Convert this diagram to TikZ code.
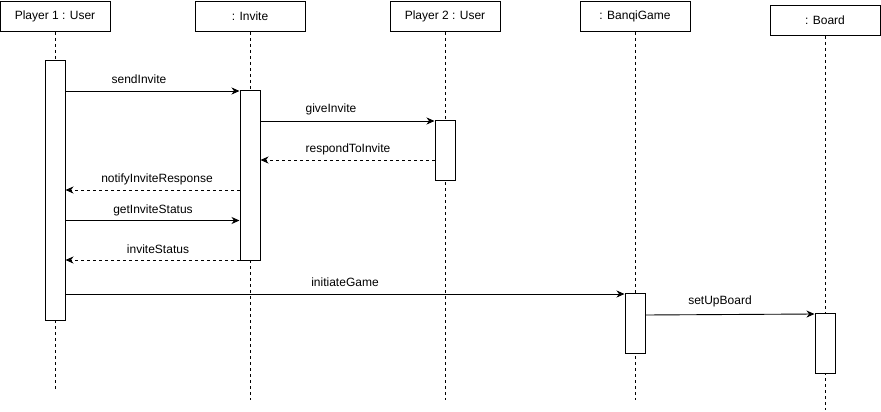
\documentclass[tikz,border=0pt]{standalone}
\usepackage{fontspec}
\setmainfont{Liberation Sans}
\usetikzlibrary{arrows.meta}
\begin{document}
\begin{tikzpicture}[x=1pt,y=-1pt,
  every node/.style={font=\fontsize{12}{14}\selectfont, inner sep=0pt},
  head/.style={draw, line width=1pt, minimum width=110pt, minimum height=30pt, anchor=north},
  actbar/.style={draw, fill=white, line width=1pt, minimum width=20pt, anchor=north},
  life/.style={line width=0.8pt, dash pattern=on 3pt off 3pt},
  call/.style={line width=0.9pt, -{Stealth[length=8pt,width=7pt,inset=2.5pt]}},
  reply/.style={call, dash pattern=on 3pt off 3pt},
  lbl/.style={}]
\useasboundingbox (0,0) rectangle (881,412);

% lifeline heads
\node[head] (p1)    at (55,1)  {Player 1 : User};
\node[head] (inv)   at (250,1) {: Invite};
\node[head] (p2)    at (445,1) {Player 2 : User};
\node[head] (game)  at (635,1) {: BanqiGame};
\node[head] (board) at (825,5) {: Board};

% lifeline ends
\coordinate (p1end)    at (55,390);
\coordinate (invend)   at (250,400);
\coordinate (p2end)    at (445,400);
\coordinate (gameend)  at (635,400);
\coordinate (boardend) at (825,410);

\draw[life] (p1)    -- (p1end);
\draw[life] (inv)   -- (invend);
\draw[life] (p2)    -- (p2end);
\draw[life] (game)  -- (gameend);
\draw[life] (board) -- (boardend);

% activation bars
\node[actbar, minimum height=260pt] (a1) at (55,60)  {};
\node[actbar, minimum height=170pt] (ai) at (250,90) {};
\node[actbar, minimum height=60pt]  (a2) at (445,120) {};
\node[actbar, minimum height=60pt]  (ag) at (635,293) {};
\node[actbar, minimum height=60pt]  (ab) at (825,313) {};

% messages
\draw[call]  (a1.east |- 0,91)  -- (ai.west |- 0,91);
\node[lbl] (m1) at (139,79) {sendInvite};

\draw[call]  (ai.east |- 0,121) -- (a2.west |- 0,121);
\node[lbl] (m2) at (331,109) {giveInvite};

\draw[reply] (a2.west |- 0,160) -- (ai.east |- 0,160);
\node[lbl] (m3) at (348,149) {respondToInvite};

\draw[reply] (ai.west |- 0,190) -- (a1.east |- 0,190);
\node[lbl] (m4) at (157,179) {notifyInviteResponse};

\draw[call]  (a1.east |- 0,220.5) -- (ai.west |- 0,220.5);
\node[lbl] (m5) at (153,210) {getInviteStatus};

\draw[reply] (ai.west |- 0,260) -- (a1.east |- 0,260);
\node[lbl] (m6) at (158,249) {inviteStatus};

\draw[call]  (a1.east |- 0,294) -- (ag.west |- 0,294);
\node[lbl] (m7) at (345,282) {initiateGame};

\draw[call]  (ag.east |- 0,315) -- (ab.west |- 0,314);
\node[lbl] (m8) at (720,301) {setUpBoard};
\end{tikzpicture}
\end{document}
